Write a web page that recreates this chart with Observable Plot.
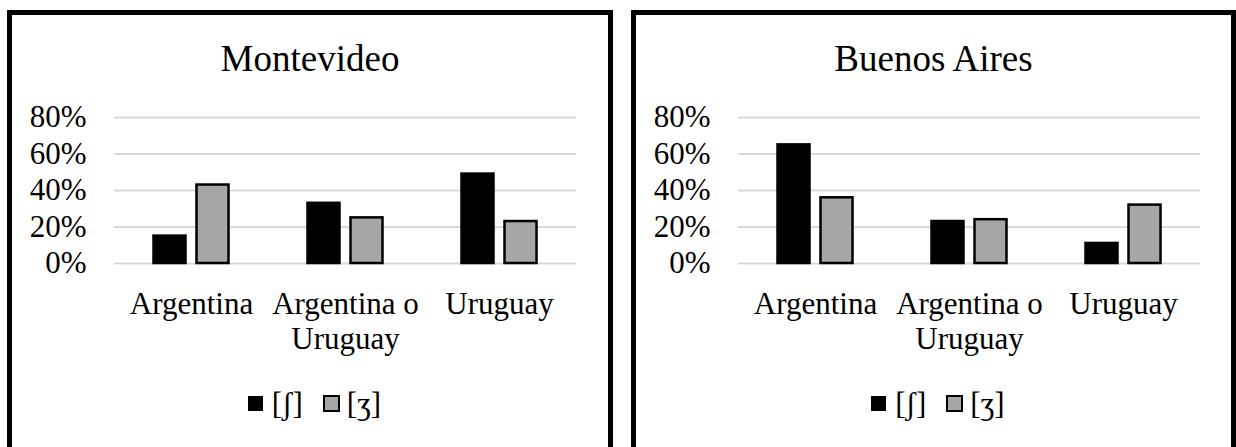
<!DOCTYPE html>
<html>
<head>
<meta charset="utf-8">
<script src="https://cdn.jsdelivr.net/npm/d3@7"></script>
<script src="https://cdn.jsdelivr.net/npm/@observablehq/plot@0.6"></script>
<style>
  html, body { margin: 0; padding: 0; background: #fff; }
  #root { position: relative; width: 1236px; height: 447px; overflow: hidden; background: #fff;
          font-family: "Liberation Serif", "Times New Roman", "DejaVu Serif", serif; color: #000; }
  .panel { position: absolute; top: 10px; height: 470px; border: 5px solid #000; box-sizing: border-box; }
  .title { position: absolute; top: 40px; font-size: 37px; line-height: 37px; text-align: center; white-space: nowrap; }
  .chart { position: absolute; top: 100px; }
  .legend { position: absolute; top: 389px; font-size: 31px; line-height: 30px; text-align: center; white-space: nowrap; padding-left: 9px; box-sizing: border-box; }
  .sw { display: inline-block; box-sizing: border-box; }
  .lab { display: inline-block; }
</style>
</head>
<body>
<div id="root"></div>
<script>
// ---- data ----
const categories = ["Argentina", "Argentina o Uruguay", "Uruguay"];
const tickLabels = ["Argentina", "Argentina o\nUruguay", "Uruguay"];
const series = ["[ʃ]", "[ʒ]"];
const panelTitles = ["Montevideo", "Buenos Aires"];
const montevideoSh = [0.15, 0.33, 0.49];
const montevideoZh = [0.43, 0.25, 0.23];
const buenosAiresSh = [0.65, 0.23, 0.11];
const buenosAiresZh = [0.36, 0.24, 0.32];
const yTicks = [0, 0.2, 0.4, 0.6, 0.8];

const FONT = "'Liberation Serif', 'Times New Roman', 'DejaVu Serif', serif";
const root = document.getElementById("root");

function makeChart(shVals, zhVals) {
  const rows = categories.flatMap((c, i) => [
    {cat: c, series: series[0], value: shVals[i]},
    {cat: c, series: series[1], value: zhVals[i]}
  ]);
  return Plot.plot({
    width: 596,
    height: 263,
    marginLeft: 101.5,
    marginRight: 32,
    marginTop: 17,
    marginBottom: 100,
    style: {fontFamily: FONT, fontSize: "31px", color: "#000", background: "transparent", overflow: "visible"},
    fx: {domain: categories, paddingInner: 0, paddingOuter: 0},
    x: {domain: series, paddingInner: 0.266, paddingOuter: 0.885, axis: null},
    y: {domain: [0, 0.8], ticks: yTicks, tickFormat: d3.format(".0%"), tickSize: 0, tickPadding: 28, label: null},
    color: {domain: series, range: ["#000000", "#a6a6a6"]},
    marks: [
      Plot.ruleY(yTicks, {stroke: "#d9d9d9", strokeWidth: 2}),
      Plot.barY(rows, {fx: "cat", x: "series", y: "value", fill: "series", stroke: "#000", strokeWidth: 2.5}),
      Plot.axisFx({
        anchor: "bottom",
        tickSize: 0,
        tickPadding: 25,
        tickFormat: (d) => tickLabels[categories.indexOf(d)],
        lineHeight: 1.15,
        label: null
      })
    ]
  });
}

const panels = [
  {left: 7, width: 606, sh: montevideoSh, zh: montevideoZh, title: panelTitles[0]},
  {left: 631, width: 605, sh: buenosAiresSh, zh: buenosAiresZh, title: panelTitles[1]}
];

for (const p of panels) {
  const box = document.createElement("div");
  box.className = "panel";
  box.style.left = p.left + "px";
  box.style.width = p.width + "px";
  root.appendChild(box);

  const title = document.createElement("div");
  title.className = "title";
  title.style.left = p.left + "px";
  title.style.width = p.width + "px";
  title.textContent = p.title;
  root.appendChild(title);

  const wrap = document.createElement("div");
  wrap.className = "chart";
  wrap.style.left = (p.left + 5) + "px";
  wrap.appendChild(makeChart(p.sh, p.zh));
  root.appendChild(wrap);

  const legend = document.createElement("div");
  legend.className = "legend";
  legend.style.left = p.left + "px";
  legend.style.width = p.width + "px";
  const swatchStyles = [
    {bg: "#000000", border: "none", size: 15, va: 3, mr: 9, ml: 0},
    {bg: "#a6a6a6", border: "2px solid #000", size: 17, va: 2, mr: 7, ml: 20}
  ];
  series.forEach((s, i) => {
    const st = swatchStyles[i];
    const sw = document.createElement("span");
    sw.className = "sw";
    sw.style.width = st.size + "px";
    sw.style.height = st.size + "px";
    sw.style.background = st.bg;
    sw.style.border = st.border;
    sw.style.verticalAlign = st.va + "px";
    sw.style.marginRight = st.mr + "px";
    sw.style.marginLeft = st.ml + "px";
    legend.appendChild(sw);
    const lab = document.createElement("span");
    lab.className = "lab";
    lab.textContent = s;
    legend.appendChild(lab);
  });
  root.appendChild(legend);
}
</script>
</body>
</html>
